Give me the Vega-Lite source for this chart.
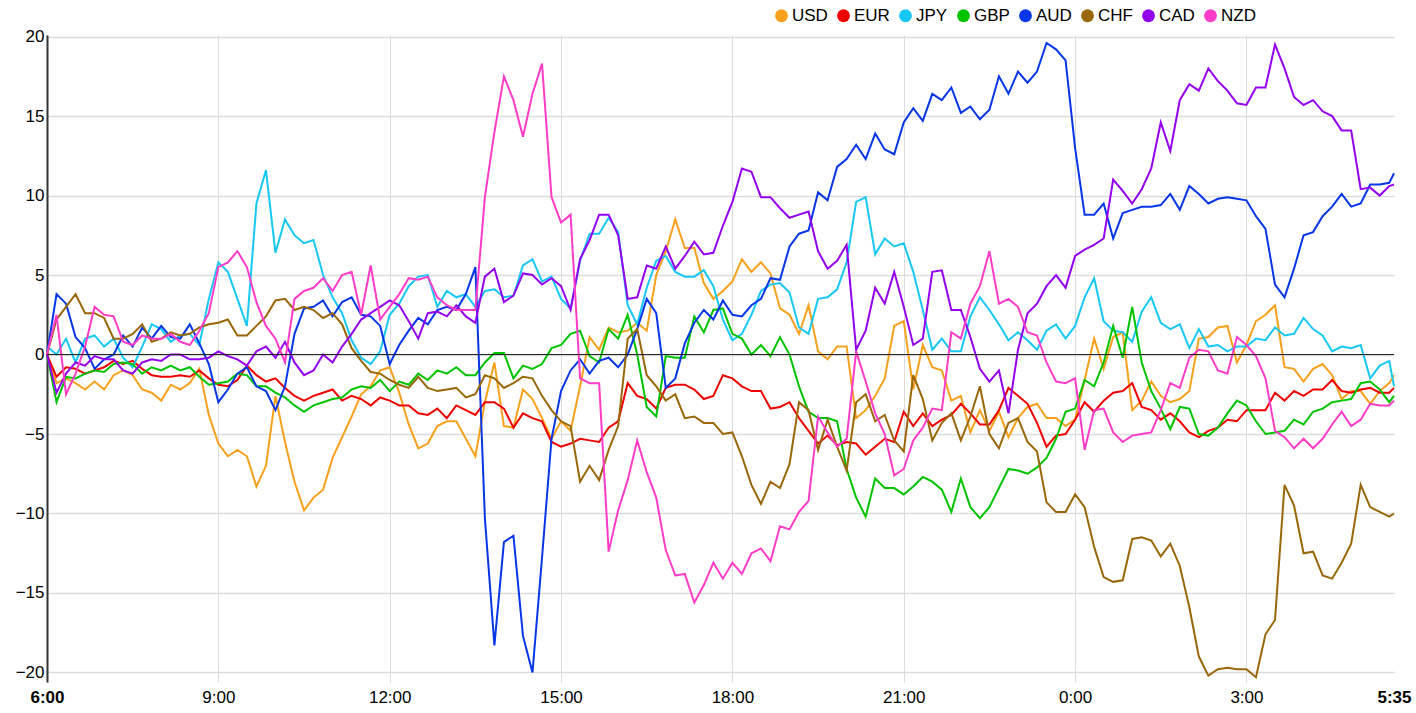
{
  "$schema": "https://vega.github.io/schema/vega-lite/v6.json",
  "width": 1347,
  "height": 647,
  "autosize": "none",
  "padding": {"left": 47, "top": 35, "right": 22, "bottom": 31},
  "background": "white",
  "config": {"view": {"stroke": null}, "font": "Liberation Sans"},
  "data": {"values": [
    {"t":"2024-01-01T06:00","USD":0,"EUR":0,"JPY":0.5,"GBP":0,"AUD":0,"CHF":0,"CAD":0,"NZD":0},
    {"t":"2024-01-01T06:10","USD":-1.8,"EUR":-1.4,"JPY":0,"GBP":-3.0,"AUD":3.8,"CHF":2.2,"CAD":-2.4,"NZD":2.5},
    {"t":"2024-01-01T06:20","USD":-1.5,"EUR":-0.8,"JPY":1.0,"GBP":-1.4,"AUD":3.2,"CHF":3.0,"CAD":-1.2,"NZD":-2.5},
    {"t":"2024-01-01T06:30","USD":-1.8,"EUR":-0.9,"JPY":-0.5,"GBP":-1.5,"AUD":1.1,"CHF":3.8,"CAD":-0.5,"NZD":-1.2},
    {"t":"2024-01-01T06:40","USD":-2.2,"EUR":-1.2,"JPY":1.0,"GBP":-1.2,"AUD":0.4,"CHF":2.6,"CAD":-0.7,"NZD":0.5},
    {"t":"2024-01-01T06:50","USD":-1.7,"EUR":-1.0,"JPY":1.2,"GBP":-1.0,"AUD":-0.9,"CHF":2.6,"CAD":-0.1,"NZD":3.0},
    {"t":"2024-01-01T07:00","USD":-2.2,"EUR":-0.8,"JPY":0.5,"GBP":-1.1,"AUD":-0.3,"CHF":2.3,"CAD":-0.3,"NZD":2.5},
    {"t":"2024-01-01T07:10","USD":-1.3,"EUR":-0.4,"JPY":1.0,"GBP":-0.6,"AUD":0.0,"CHF":1.0,"CAD":-0.3,"NZD":2.4},
    {"t":"2024-01-01T07:20","USD":-1.0,"EUR":-0.6,"JPY":-0.2,"GBP":-0.5,"AUD":1.2,"CHF":1.0,"CAD":-1.0,"NZD":0.8},
    {"t":"2024-01-01T07:30","USD":-1.3,"EUR":-0.4,"JPY":-0.8,"GBP":-0.6,"AUD":0.5,"CHF":1.3,"CAD":-1.2,"NZD":0.6},
    {"t":"2024-01-01T07:40","USD":-2.2,"EUR":-0.9,"JPY":0.5,"GBP":-1.2,"AUD":1.7,"CHF":1.9,"CAD":-0.5,"NZD":1.2},
    {"t":"2024-01-01T07:50","USD":-2.4,"EUR":-1.3,"JPY":1.9,"GBP":-0.8,"AUD":1.0,"CHF":0.8,"CAD":-0.3,"NZD":1.0},
    {"t":"2024-01-01T08:00","USD":-2.9,"EUR":-1.4,"JPY":1.6,"GBP":-1.0,"AUD":1.8,"CHF":1.0,"CAD":-0.4,"NZD":1.0},
    {"t":"2024-01-01T08:10","USD":-1.9,"EUR":-1.4,"JPY":0.8,"GBP":-0.7,"AUD":1.1,"CHF":1.4,"CAD":0.0,"NZD":1.3},
    {"t":"2024-01-01T08:20","USD":-2.2,"EUR":-1.3,"JPY":1.2,"GBP":-1.0,"AUD":1.0,"CHF":1.2,"CAD":0.0,"NZD":0.8},
    {"t":"2024-01-01T08:30","USD":-1.8,"EUR":-1.4,"JPY":1.3,"GBP":-0.8,"AUD":1.9,"CHF":1.3,"CAD":-0.3,"NZD":0.6},
    {"t":"2024-01-01T08:40","USD":-0.9,"EUR":-1.0,"JPY":0.6,"GBP":-1.4,"AUD":0.7,"CHF":1.7,"CAD":-0.3,"NZD":1.5},
    {"t":"2024-01-01T08:50","USD":-3.8,"EUR":-1.5,"JPY":3.5,"GBP":-1.9,"AUD":-0.6,"CHF":1.9,"CAD":-0.2,"NZD":2.6},
    {"t":"2024-01-01T09:00","USD":-5.6,"EUR":-1.9,"JPY":5.8,"GBP":-1.8,"AUD":-3.0,"CHF":2.0,"CAD":0.2,"NZD":5.5},
    {"t":"2024-01-01T09:10","USD":-6.4,"EUR":-2.0,"JPY":5.2,"GBP":-1.7,"AUD":-2.2,"CHF":2.2,"CAD":-0.1,"NZD":5.8},
    {"t":"2024-01-01T09:20","USD":-6.0,"EUR":-1.6,"JPY":3.5,"GBP":-1.2,"AUD":-1.2,"CHF":1.2,"CAD":-0.3,"NZD":6.5},
    {"t":"2024-01-01T09:30","USD":-6.4,"EUR":-0.7,"JPY":1.8,"GBP":-1.3,"AUD":-0.8,"CHF":1.2,"CAD":-0.7,"NZD":5.5},
    {"t":"2024-01-01T09:40","USD":-8.3,"EUR":-1.3,"JPY":9.5,"GBP":-2.0,"AUD":-2.0,"CHF":1.8,"CAD":0.2,"NZD":3.3},
    {"t":"2024-01-01T09:50","USD":-7.0,"EUR":-1.7,"JPY":11.6,"GBP":-2.0,"AUD":-2.3,"CHF":2.4,"CAD":0.5,"NZD":1.8},
    {"t":"2024-01-01T10:00","USD":-2.6,"EUR":-1.5,"JPY":6.4,"GBP":-2.4,"AUD":-3.5,"CHF":3.4,"CAD":-0.2,"NZD":1.0},
    {"t":"2024-01-01T10:10","USD":-5.5,"EUR":-2.1,"JPY":8.5,"GBP":-2.7,"AUD":-2.0,"CHF":3.5,"CAD":0.8,"NZD":-0.5},
    {"t":"2024-01-01T10:20","USD":-8.0,"EUR":-2.6,"JPY":7.5,"GBP":-3.2,"AUD":1.3,"CHF":2.8,"CAD":-0.5,"NZD":3.5},
    {"t":"2024-01-01T10:30","USD":-9.8,"EUR":-2.9,"JPY":7.0,"GBP":-3.6,"AUD":2.9,"CHF":3.0,"CAD":-1.3,"NZD":4.0},
    {"t":"2024-01-01T10:40","USD":-9.0,"EUR":-2.6,"JPY":7.2,"GBP":-3.2,"AUD":3.0,"CHF":2.8,"CAD":-1.0,"NZD":4.2},
    {"t":"2024-01-01T10:50","USD":-8.5,"EUR":-2.4,"JPY":5.0,"GBP":-3.0,"AUD":3.4,"CHF":2.3,"CAD":0.0,"NZD":4.8},
    {"t":"2024-01-01T11:00","USD":-6.5,"EUR":-2.2,"JPY":3.6,"GBP":-2.8,"AUD":2.4,"CHF":2.6,"CAD":-0.5,"NZD":4.0},
    {"t":"2024-01-01T11:10","USD":-5.2,"EUR":-2.9,"JPY":2.6,"GBP":-2.7,"AUD":3.3,"CHF":1.9,"CAD":0.5,"NZD":5.0},
    {"t":"2024-01-01T11:20","USD":-3.9,"EUR":-2.6,"JPY":0.9,"GBP":-2.2,"AUD":3.6,"CHF":0.4,"CAD":1.3,"NZD":5.2},
    {"t":"2024-01-01T11:30","USD":-2.5,"EUR":-2.8,"JPY":-0.2,"GBP":-2.0,"AUD":2.5,"CHF":-0.4,"CAD":2.2,"NZD":2.5},
    {"t":"2024-01-01T11:40","USD":-2.0,"EUR":-3.2,"JPY":-0.6,"GBP":-2.1,"AUD":2.4,"CHF":-1.1,"CAD":2.6,"NZD":5.6},
    {"t":"2024-01-01T11:50","USD":-1.0,"EUR":-2.7,"JPY":0.2,"GBP":-1.6,"AUD":1.8,"CHF":-1.2,"CAD":3.0,"NZD":2.2},
    {"t":"2024-01-01T12:00","USD":-0.8,"EUR":-2.9,"JPY":2.5,"GBP":-2.3,"AUD":-0.6,"CHF":-1.6,"CAD":3.4,"NZD":3.0},
    {"t":"2024-01-01T12:10","USD":-2.4,"EUR":-3.2,"JPY":3.2,"GBP":-1.7,"AUD":0.6,"CHF":-1.9,"CAD":3.1,"NZD":3.8},
    {"t":"2024-01-01T12:20","USD":-4.4,"EUR":-3.2,"JPY":4.3,"GBP":-1.9,"AUD":1.5,"CHF":-2.1,"CAD":2.1,"NZD":4.8},
    {"t":"2024-01-01T12:30","USD":-5.9,"EUR":-3.7,"JPY":4.9,"GBP":-1.2,"AUD":2.3,"CHF":-1.4,"CAD":1.0,"NZD":4.7},
    {"t":"2024-01-01T12:40","USD":-5.6,"EUR":-3.8,"JPY":5.0,"GBP":-1.6,"AUD":1.9,"CHF":-2.1,"CAD":2.6,"NZD":4.9},
    {"t":"2024-01-01T12:50","USD":-4.5,"EUR":-3.4,"JPY":3.0,"GBP":-1.0,"AUD":2.8,"CHF":-2.3,"CAD":2.7,"NZD":3.6},
    {"t":"2024-01-01T13:00","USD":-4.2,"EUR":-4.0,"JPY":4.0,"GBP":-1.2,"AUD":3.0,"CHF":-2.2,"CAD":2.4,"NZD":3.1},
    {"t":"2024-01-01T13:10","USD":-4.2,"EUR":-3.2,"JPY":3.6,"GBP":-0.8,"AUD":2.8,"CHF":-2.1,"CAD":3.1,"NZD":2.8},
    {"t":"2024-01-01T13:20","USD":-5.3,"EUR":-3.5,"JPY":3.8,"GBP":-1.3,"AUD":3.8,"CHF":-2.7,"CAD":2.4,"NZD":2.8},
    {"t":"2024-01-01T13:30","USD":-6.4,"EUR":-3.8,"JPY":3.0,"GBP":-1.3,"AUD":5.5,"CHF":-2.5,"CAD":2.0,"NZD":2.8},
    {"t":"2024-01-01T13:40","USD":-3.0,"EUR":-3.0,"JPY":4.0,"GBP":-0.5,"AUD":-10.3,"CHF":-1.3,"CAD":4.9,"NZD":9.9},
    {"t":"2024-01-01T13:50","USD":-0.5,"EUR":-3.0,"JPY":4.1,"GBP":0.1,"AUD":-18.3,"CHF":-1.5,"CAD":5.4,"NZD":14.0},
    {"t":"2024-01-01T14:00","USD":-4.5,"EUR":-3.4,"JPY":3.6,"GBP":0.1,"AUD":-11.8,"CHF":-2.1,"CAD":3.3,"NZD":17.5},
    {"t":"2024-01-01T14:10","USD":-4.6,"EUR":-4.6,"JPY":3.7,"GBP":-1.5,"AUD":-11.4,"CHF":-1.8,"CAD":3.7,"NZD":16.0},
    {"t":"2024-01-01T14:20","USD":-2.2,"EUR":-3.7,"JPY":5.6,"GBP":-0.7,"AUD":-17.7,"CHF":-1.4,"CAD":5.1,"NZD":13.7},
    {"t":"2024-01-01T14:30","USD":-2.8,"EUR":-4.0,"JPY":6.0,"GBP":-0.9,"AUD":-20.0,"CHF":-1.5,"CAD":5.0,"NZD":16.4},
    {"t":"2024-01-01T14:40","USD":-4.0,"EUR":-4.2,"JPY":4.6,"GBP":-0.6,"AUD":-12.8,"CHF":-2.6,"CAD":4.4,"NZD":18.3},
    {"t":"2024-01-01T14:50","USD":-5.3,"EUR":-5.5,"JPY":4.9,"GBP":0.4,"AUD":-5.3,"CHF":-3.5,"CAD":4.8,"NZD":9.9},
    {"t":"2024-01-01T15:00","USD":-4.2,"EUR":-5.8,"JPY":3.5,"GBP":0.6,"AUD":-2.3,"CHF":-4.2,"CAD":4.3,"NZD":8.3},
    {"t":"2024-01-01T15:10","USD":-4.8,"EUR":-5.6,"JPY":2.9,"GBP":1.3,"AUD":-1.0,"CHF":-4.5,"CAD":2.8,"NZD":8.8},
    {"t":"2024-01-01T15:20","USD":-2.0,"EUR":-5.3,"JPY":5.9,"GBP":1.5,"AUD":-0.3,"CHF":-8.0,"CAD":6.0,"NZD":-1.5},
    {"t":"2024-01-01T15:30","USD":1.1,"EUR":-5.4,"JPY":7.6,"GBP":-0.1,"AUD":-1.2,"CHF":-7.0,"CAD":7.2,"NZD":-1.8},
    {"t":"2024-01-01T15:40","USD":0.3,"EUR":-5.5,"JPY":7.6,"GBP":-0.5,"AUD":-0.4,"CHF":-7.9,"CAD":8.8,"NZD":-1.8},
    {"t":"2024-01-01T15:50","USD":1.7,"EUR":-4.6,"JPY":8.6,"GBP":1.6,"AUD":-0.2,"CHF":-6.0,"CAD":8.8,"NZD":-12.4},
    {"t":"2024-01-01T16:00","USD":1.4,"EUR":-4.2,"JPY":7.7,"GBP":1.0,"AUD":-0.8,"CHF":-4.5,"CAD":7.5,"NZD":-9.8},
    {"t":"2024-01-01T16:10","USD":1.5,"EUR":-1.8,"JPY":3.1,"GBP":2.5,"AUD":0.0,"CHF":1.0,"CAD":3.5,"NZD":-7.9},
    {"t":"2024-01-01T16:20","USD":2.0,"EUR":-2.6,"JPY":1.9,"GBP":0.0,"AUD":1.6,"CHF":1.6,"CAD":3.6,"NZD":-5.4},
    {"t":"2024-01-01T16:30","USD":1.5,"EUR":-2.8,"JPY":4.2,"GBP":-3.3,"AUD":3.5,"CHF":-1.3,"CAD":5.6,"NZD":-7.4},
    {"t":"2024-01-01T16:40","USD":5.0,"EUR":-3.4,"JPY":5.9,"GBP":-3.9,"AUD":2.6,"CHF":-2.0,"CAD":5.4,"NZD":-9.0},
    {"t":"2024-01-01T16:50","USD":6.5,"EUR":-2.1,"JPY":6.2,"GBP":-0.1,"AUD":-2.1,"CHF":-2.9,"CAD":6.8,"NZD":-12.3},
    {"t":"2024-01-01T17:00","USD":8.5,"EUR":-1.9,"JPY":5.2,"GBP":-0.2,"AUD":-1.5,"CHF":-2.5,"CAD":5.4,"NZD":-13.9},
    {"t":"2024-01-01T17:10","USD":6.7,"EUR":-1.9,"JPY":4.9,"GBP":-0.2,"AUD":0.7,"CHF":-4.0,"CAD":6.2,"NZD":-13.8},
    {"t":"2024-01-01T17:20","USD":6.7,"EUR":-2.2,"JPY":4.9,"GBP":2.4,"AUD":2.0,"CHF":-3.9,"CAD":7.1,"NZD":-15.6},
    {"t":"2024-01-01T17:30","USD":4.5,"EUR":-2.8,"JPY":5.3,"GBP":1.4,"AUD":2.8,"CHF":-4.3,"CAD":6.3,"NZD":-14.5},
    {"t":"2024-01-01T17:40","USD":3.5,"EUR":-2.6,"JPY":4.3,"GBP":2.8,"AUD":2.2,"CHF":-4.3,"CAD":6.4,"NZD":-13.1},
    {"t":"2024-01-01T17:50","USD":4.0,"EUR":-1.3,"JPY":2.2,"GBP":2.9,"AUD":3.4,"CHF":-5.0,"CAD":8.1,"NZD":-14.1},
    {"t":"2024-01-01T18:00","USD":4.6,"EUR":-1.5,"JPY":0.9,"GBP":1.3,"AUD":2.5,"CHF":-4.9,"CAD":9.6,"NZD":-13.1},
    {"t":"2024-01-01T18:10","USD":6.0,"EUR":-2.0,"JPY":1.3,"GBP":1.0,"AUD":2.4,"CHF":-6.4,"CAD":11.7,"NZD":-13.8},
    {"t":"2024-01-01T18:20","USD":5.2,"EUR":-2.3,"JPY":2.5,"GBP":0.0,"AUD":3.1,"CHF":-8.2,"CAD":11.5,"NZD":-12.5},
    {"t":"2024-01-01T18:30","USD":5.8,"EUR":-2.3,"JPY":4.0,"GBP":0.6,"AUD":3.5,"CHF":-9.4,"CAD":9.9,"NZD":-12.2},
    {"t":"2024-01-01T18:40","USD":5.1,"EUR":-3.4,"JPY":4.4,"GBP":-0.1,"AUD":4.8,"CHF":-8.0,"CAD":9.9,"NZD":-13.0},
    {"t":"2024-01-01T18:50","USD":2.9,"EUR":-3.3,"JPY":4.5,"GBP":1.1,"AUD":4.7,"CHF":-8.4,"CAD":9.2,"NZD":-10.8},
    {"t":"2024-01-01T19:00","USD":2.5,"EUR":-3.0,"JPY":3.9,"GBP":0.0,"AUD":6.8,"CHF":-6.9,"CAD":8.6,"NZD":-11.0},
    {"t":"2024-01-01T19:10","USD":1.3,"EUR":-4.0,"JPY":1.7,"GBP":-2.0,"AUD":7.6,"CHF":-3.0,"CAD":8.8,"NZD":-9.9},
    {"t":"2024-01-01T19:20","USD":3.1,"EUR":-4.8,"JPY":1.3,"GBP":-3.6,"AUD":7.8,"CHF":-3.5,"CAD":9.0,"NZD":-9.2},
    {"t":"2024-01-01T19:30","USD":0.2,"EUR":-5.6,"JPY":3.5,"GBP":-4.0,"AUD":10.2,"CHF":-6.0,"CAD":6.5,"NZD":-3.9},
    {"t":"2024-01-01T19:40","USD":-0.3,"EUR":-5.1,"JPY":3.6,"GBP":-4.0,"AUD":9.7,"CHF":-4.1,"CAD":5.4,"NZD":-4.9},
    {"t":"2024-01-01T19:50","USD":0.5,"EUR":-5.7,"JPY":4.1,"GBP":-4.2,"AUD":11.8,"CHF":-5.8,"CAD":5.9,"NZD":-5.8},
    {"t":"2024-01-01T20:00","USD":0.5,"EUR":-5.5,"JPY":5.8,"GBP":-7.2,"AUD":12.3,"CHF":-7.3,"CAD":6.9,"NZD":-5.3},
    {"t":"2024-01-01T20:10","USD":-4.0,"EUR":-5.6,"JPY":9.6,"GBP":-9.0,"AUD":13.2,"CHF":-3.0,"CAD":0.3,"NZD":0.2},
    {"t":"2024-01-01T20:20","USD":-3.5,"EUR":-6.3,"JPY":9.9,"GBP":-10.2,"AUD":12.3,"CHF":-2.5,"CAD":1.5,"NZD":-1.7},
    {"t":"2024-01-01T20:30","USD":-2.6,"EUR":-5.8,"JPY":6.3,"GBP":-7.8,"AUD":13.9,"CHF":-4.2,"CAD":4.2,"NZD":-3.7},
    {"t":"2024-01-01T20:40","USD":-1.5,"EUR":-5.3,"JPY":7.3,"GBP":-8.4,"AUD":12.9,"CHF":-3.8,"CAD":3.2,"NZD":-5.0},
    {"t":"2024-01-01T20:50","USD":1.8,"EUR":-5.5,"JPY":6.8,"GBP":-8.4,"AUD":12.6,"CHF":-5.4,"CAD":5.2,"NZD":-7.6},
    {"t":"2024-01-01T21:00","USD":2.1,"EUR":-3.6,"JPY":7.0,"GBP":-8.8,"AUD":14.6,"CHF":-6.1,"CAD":3.0,"NZD":-7.2},
    {"t":"2024-01-01T21:10","USD":-2.2,"EUR":-4.5,"JPY":5.2,"GBP":-8.3,"AUD":15.5,"CHF":-1.3,"CAD":0.6,"NZD":-5.4},
    {"t":"2024-01-01T21:20","USD":0.6,"EUR":-3.7,"JPY":2.8,"GBP":-7.7,"AUD":14.7,"CHF":-2.8,"CAD":1.0,"NZD":-4.6},
    {"t":"2024-01-01T21:30","USD":-0.8,"EUR":-4.5,"JPY":0.3,"GBP":-8.0,"AUD":16.4,"CHF":-5.4,"CAD":5.2,"NZD":-3.4},
    {"t":"2024-01-01T21:40","USD":-1.0,"EUR":-4.1,"JPY":1.0,"GBP":-8.5,"AUD":16.0,"CHF":-4.3,"CAD":5.3,"NZD":-3.5},
    {"t":"2024-01-01T21:50","USD":-2.9,"EUR":-3.8,"JPY":0.2,"GBP":-9.9,"AUD":16.8,"CHF":-3.7,"CAD":2.8,"NZD":1.4},
    {"t":"2024-01-01T22:00","USD":-2.6,"EUR":-3.1,"JPY":0.2,"GBP":-7.8,"AUD":15.2,"CHF":-5.4,"CAD":2.8,"NZD":1.0},
    {"t":"2024-01-01T22:10","USD":-4.9,"EUR":-3.7,"JPY":2.4,"GBP":-9.6,"AUD":15.6,"CHF":-3.9,"CAD":1.1,"NZD":3.2},
    {"t":"2024-01-01T22:20","USD":-3.5,"EUR":-4.4,"JPY":3.6,"GBP":-10.3,"AUD":14.8,"CHF":-2.0,"CAD":-0.9,"NZD":4.3},
    {"t":"2024-01-01T22:30","USD":-4.8,"EUR":-4.4,"JPY":2.8,"GBP":-9.6,"AUD":15.4,"CHF":-5.0,"CAD":-1.7,"NZD":6.5},
    {"t":"2024-01-01T22:40","USD":-3.6,"EUR":-3.5,"JPY":1.9,"GBP":-8.4,"AUD":17.5,"CHF":-5.9,"CAD":-1.0,"NZD":3.2},
    {"t":"2024-01-01T22:50","USD":-5.2,"EUR":-2.1,"JPY":0.9,"GBP":-7.2,"AUD":16.4,"CHF":-4.3,"CAD":-3.7,"NZD":3.5},
    {"t":"2024-01-01T23:00","USD":-4.0,"EUR":-2.6,"JPY":1.4,"GBP":-7.3,"AUD":17.8,"CHF":-4.0,"CAD":0.3,"NZD":3.0},
    {"t":"2024-01-01T23:10","USD":-3.3,"EUR":-3.1,"JPY":0.9,"GBP":-7.5,"AUD":17.1,"CHF":-5.5,"CAD":2.6,"NZD":1.4},
    {"t":"2024-01-01T23:20","USD":-3.1,"EUR":-4.3,"JPY":0.3,"GBP":-7.1,"AUD":17.8,"CHF":-6.1,"CAD":3.2,"NZD":1.2},
    {"t":"2024-01-01T23:30","USD":-4.0,"EUR":-5.8,"JPY":1.5,"GBP":-6.5,"AUD":19.6,"CHF":-9.3,"CAD":4.3,"NZD":-0.5},
    {"t":"2024-01-01T23:40","USD":-4.0,"EUR":-5.1,"JPY":1.9,"GBP":-5.3,"AUD":19.2,"CHF":-9.9,"CAD":5.0,"NZD":-1.7},
    {"t":"2024-01-01T23:50","USD":-4.5,"EUR":-5.0,"JPY":1.0,"GBP":-3.6,"AUD":18.5,"CHF":-9.9,"CAD":4.2,"NZD":-1.8},
    {"t":"2024-01-02T00:00","USD":-4.1,"EUR":-4.1,"JPY":1.8,"GBP":-3.4,"AUD":13.0,"CHF":-8.8,"CAD":6.2,"NZD":-1.5},
    {"t":"2024-01-02T00:10","USD":-1.6,"EUR":-3.0,"JPY":3.6,"GBP":-1.6,"AUD":8.8,"CHF":-9.6,"CAD":6.6,"NZD":-6.0},
    {"t":"2024-01-02T00:20","USD":1.0,"EUR":-3.6,"JPY":4.8,"GBP":-2.0,"AUD":8.8,"CHF":-12.1,"CAD":6.9,"NZD":-3.5},
    {"t":"2024-01-02T00:30","USD":-0.9,"EUR":-2.9,"JPY":2.1,"GBP":-0.5,"AUD":9.5,"CHF":-14.0,"CAD":7.3,"NZD":-3.4},
    {"t":"2024-01-02T00:40","USD":1.1,"EUR":-2.4,"JPY":1.5,"GBP":1.8,"AUD":7.3,"CHF":-14.3,"CAD":11.0,"NZD":-4.9},
    {"t":"2024-01-02T00:50","USD":1.4,"EUR":-2.3,"JPY":1.4,"GBP":-0.2,"AUD":8.9,"CHF":-14.2,"CAD":10.3,"NZD":-5.5},
    {"t":"2024-01-02T01:00","USD":-3.5,"EUR":-1.8,"JPY":0.8,"GBP":3.0,"AUD":9.1,"CHF":-11.6,"CAD":9.5,"NZD":-5.1},
    {"t":"2024-01-02T01:10","USD":-2.9,"EUR":-3.3,"JPY":2.7,"GBP":-0.5,"AUD":9.3,"CHF":-11.5,"CAD":10.4,"NZD":-5.0},
    {"t":"2024-01-02T01:20","USD":-1.7,"EUR":-3.5,"JPY":3.6,"GBP":-2.3,"AUD":9.3,"CHF":-11.7,"CAD":11.7,"NZD":-4.9},
    {"t":"2024-01-02T01:30","USD":-2.6,"EUR":-4.1,"JPY":2.0,"GBP":-3.4,"AUD":9.4,"CHF":-12.7,"CAD":14.6,"NZD":-3.5},
    {"t":"2024-01-02T01:40","USD":-3.0,"EUR":-3.7,"JPY":1.6,"GBP":-4.7,"AUD":10.1,"CHF":-11.9,"CAD":12.8,"NZD":-1.8},
    {"t":"2024-01-02T01:50","USD":-2.8,"EUR":-4.2,"JPY":1.9,"GBP":-3.3,"AUD":9.1,"CHF":-13.3,"CAD":16.0,"NZD":-2.1},
    {"t":"2024-01-02T02:00","USD":-2.3,"EUR":-4.9,"JPY":0.4,"GBP":-3.4,"AUD":10.6,"CHF":-15.9,"CAD":17.0,"NZD":-0.2},
    {"t":"2024-01-02T02:10","USD":1.0,"EUR":-5.2,"JPY":1.6,"GBP":-5.0,"AUD":10.1,"CHF":-19.0,"CAD":16.6,"NZD":0.3},
    {"t":"2024-01-02T02:20","USD":1.1,"EUR":-4.8,"JPY":0.5,"GBP":-5.1,"AUD":9.5,"CHF":-20.2,"CAD":18.0,"NZD":0.2},
    {"t":"2024-01-02T02:30","USD":1.7,"EUR":-4.6,"JPY":0.6,"GBP":-4.6,"AUD":9.8,"CHF":-19.8,"CAD":17.2,"NZD":-1.0},
    {"t":"2024-01-02T02:40","USD":1.8,"EUR":-4.1,"JPY":0.2,"GBP":-3.7,"AUD":9.9,"CHF":-19.7,"CAD":16.6,"NZD":-1.2},
    {"t":"2024-01-02T02:50","USD":-0.5,"EUR":-4.2,"JPY":0.5,"GBP":-2.9,"AUD":9.8,"CHF":-19.8,"CAD":15.8,"NZD":1.1},
    {"t":"2024-01-02T03:00","USD":0.6,"EUR":-3.5,"JPY":0.5,"GBP":-3.2,"AUD":9.7,"CHF":-19.8,"CAD":15.7,"NZD":0.6},
    {"t":"2024-01-02T03:10","USD":2.1,"EUR":-3.5,"JPY":1.0,"GBP":-4.2,"AUD":8.7,"CHF":-20.3,"CAD":16.8,"NZD":-0.1},
    {"t":"2024-01-02T03:20","USD":2.5,"EUR":-3.5,"JPY":0.9,"GBP":-5.0,"AUD":7.9,"CHF":-17.6,"CAD":16.8,"NZD":-1.5},
    {"t":"2024-01-02T03:30","USD":3.1,"EUR":-2.4,"JPY":1.7,"GBP":-4.9,"AUD":4.4,"CHF":-16.7,"CAD":19.5,"NZD":-4.8},
    {"t":"2024-01-02T03:40","USD":-0.8,"EUR":-2.9,"JPY":1.2,"GBP":-4.8,"AUD":3.6,"CHF":-8.2,"CAD":18.0,"NZD":-5.2},
    {"t":"2024-01-02T03:50","USD":-0.9,"EUR":-2.3,"JPY":1.3,"GBP":-4.1,"AUD":5.4,"CHF":-9.5,"CAD":16.2,"NZD":-5.9},
    {"t":"2024-01-02T04:00","USD":-1.7,"EUR":-2.6,"JPY":2.3,"GBP":-4.4,"AUD":7.5,"CHF":-12.5,"CAD":15.7,"NZD":-5.3},
    {"t":"2024-01-02T04:10","USD":-0.9,"EUR":-2.2,"JPY":1.6,"GBP":-3.6,"AUD":7.7,"CHF":-12.4,"CAD":16.0,"NZD":-5.9},
    {"t":"2024-01-02T04:20","USD":-0.6,"EUR":-2.2,"JPY":1.2,"GBP":-3.4,"AUD":8.7,"CHF":-13.9,"CAD":15.3,"NZD":-5.3},
    {"t":"2024-01-02T04:30","USD":-1.3,"EUR":-1.6,"JPY":0.2,"GBP":-3.0,"AUD":9.3,"CHF":-14.1,"CAD":15.0,"NZD":-4.4},
    {"t":"2024-01-02T04:40","USD":-2.8,"EUR":-2.3,"JPY":0.5,"GBP":-2.9,"AUD":10.1,"CHF":-13.1,"CAD":14.1,"NZD":-3.6},
    {"t":"2024-01-02T04:50","USD":-2.3,"EUR":-2.4,"JPY":0.4,"GBP":-2.8,"AUD":9.3,"CHF":-11.9,"CAD":14.1,"NZD":-4.5},
    {"t":"2024-01-02T05:00","USD":-2.3,"EUR":-2.2,"JPY":0.6,"GBP":-1.8,"AUD":9.5,"CHF":-8.2,"CAD":10.4,"NZD":-4.1},
    {"t":"2024-01-02T05:10","USD":-3.1,"EUR":-2.1,"JPY":-1.5,"GBP":-1.7,"AUD":10.7,"CHF":-9.6,"CAD":10.5,"NZD":-3.1},
    {"t":"2024-01-02T05:20","USD":-2.3,"EUR":-2.4,"JPY":-0.7,"GBP":-2.2,"AUD":10.7,"CHF":-9.9,"CAD":10.0,"NZD":-3.2},
    {"t":"2024-01-02T05:30","USD":-1.8,"EUR":-2.4,"JPY":-0.4,"GBP":-3.0,"AUD":10.8,"CHF":-10.2,"CAD":10.6,"NZD":-3.2},
    {"t":"2024-01-02T05:35","USD":-1.3,"EUR":-2.1,"JPY":-2.0,"GBP":-2.6,"AUD":11.4,"CHF":-10.0,"CAD":10.7,"NZD":-2.9}
  ]},
  "transform": [
    {"fold": ["USD", "EUR", "JPY", "GBP", "AUD", "CHF", "CAD", "NZD"], "as": ["cur", "val"]}
  ],
  "layer": [
    {
      "mark": {"type": "line", "strokeWidth": 2},
      "encoding": {
        "x": {
          "field": "t", "type": "temporal",
          "scale": {"domain": [{"year": 2024, "month": 1, "date": 1, "hours": 6, "minutes": 0},
                               {"year": 2024, "month": 1, "date": 2, "hours": 5, "minutes": 35}]},
          "axis": {
            "title": null,
            "values": [{"year": 2024, "month": 1, "date": 1, "hours": 6},
                       {"year": 2024, "month": 1, "date": 1, "hours": 9},
                       {"year": 2024, "month": 1, "date": 1, "hours": 12},
                       {"year": 2024, "month": 1, "date": 1, "hours": 15},
                       {"year": 2024, "month": 1, "date": 1, "hours": 18},
                       {"year": 2024, "month": 1, "date": 1, "hours": 21},
                       {"year": 2024, "month": 1, "date": 2, "hours": 0},
                       {"year": 2024, "month": 1, "date": 2, "hours": 3},
                       {"year": 2024, "month": 1, "date": 2, "hours": 5, "minutes": 35}],
            "format": "%-H:%M",
            "labelFontSize": 17,
            "labelColor": "#000000",
            "labelFontWeight": {"condition": {"test": "datum.label == '6:00' || datum.label == '5:35'", "value": "bold"}, "value": "normal"},
            "labelPadding": 7,
            "labelFlush": false,
            "labelOverlap": false,
            "domain": false,
            "ticks": false,
            "grid": true,
            "gridColor": {"condition": {"test": "hours(datum.value) == 5", "value": "transparent"}, "value": "#dcdcdc"},
            "gridWidth": 1
          }
        },
        "y": {
          "field": "val", "type": "quantitative",
          "scale": {"domain": [-20.6, 20.1], "nice": false, "zero": false},
          "axis": {
            "title": null,
            "values": [-20, -15, -10, -5, 0, 5, 10, 15, 20],
            "labelFontSize": 17,
            "labelColor": "#000000",
            "labelPadding": 3,
            "ticks": false,
            "domainColor": "#333333",
            "domainWidth": 2,
            "grid": true,
            "gridColor": "#dcdcdc",
            "gridWidth": 1.3
          }
        },
        "color": {
          "field": "cur", "type": "nominal",
          "scale": {
            "domain": ["USD", "EUR", "JPY", "GBP", "AUD", "CHF", "CAD", "NZD"],
            "range": ["#f7a01c", "#ee0000", "#18c8f4", "#00c300", "#0636e8", "#996708", "#9400ee", "#ff3cc8"]
          },
          "legend": {
            "title": null,
            "orient": "none",
            "legendX": 726,
            "legendY": -28,
            "direction": "horizontal",
            "columns": 8,
            "columnPadding": 7,
            "symbolType": "circle",
            "symbolSize": 165,
            "symbolStrokeWidth": 0,
            "labelFontSize": 17,
            "labelColor": "#000000",
            "labelOffset": 2,
            "labelLimit": 0,
            "encode": {"symbols": {"update": {"fill": {"scale": "color", "field": "value"}, "fillOpacity": {"value": 1}}}}
          }
        }
      }
    },
    {
      "data": {"values": [{}]},
      "mark": {"type": "rule", "color": "#222222", "strokeWidth": 1},
      "encoding": {"y": {"datum": 0, "type": "quantitative"}}
    }
  ]
}
